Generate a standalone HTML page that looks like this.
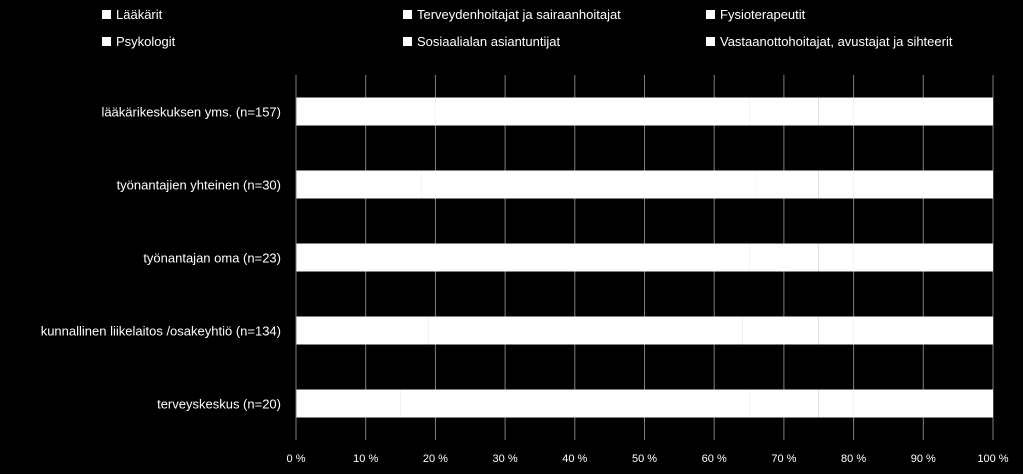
<!DOCTYPE html>
<html><head><meta charset="utf-8"><style>
body{margin:0;background:#000;}
svg{display:block;font-family:"Liberation Sans",sans-serif;}
</style></head><body>
<svg id="c" width="1023" height="474"></svg>
<script>
const categories=["lääkärikeskuksen yms. (n=157)","työnantajien yhteinen (n=30)","työnantajan oma (n=23)","kunnallinen liikelaitos /osakeyhtiö (n=134)","terveyskeskus (n=20)"];
const seriesNames=["Lääkärit","Terveydenhoitajat ja sairaanhoitajat","Fysioterapeutit","Psykologit","Sosiaalialan asiantuntijat","Vastaanottohoitajat, avustajat ja sihteerit"];
const s1=[20,18,17,19,15];
const s2=[30,32,33,31,35];
const s3=[15,16,15,14,15];
const s4=[10,9,10,11,10];
const s5=[5,5,5,5,5];
const s6=[20,20,20,20,20];
const ticks=[0,10,20,30,40,50,60,70,80,90,100];
const series=[s1,s2,s3,s4,s5,s6];
const NS="http://www.w3.org/2000/svg";
const svgEl=document.getElementById('c');
function el(t,a,p){const e=document.createElementNS(NS,t);for(const k in a)e.setAttribute(k,a[k]);(p||svgEl).appendChild(e);return e;}
const x0=296,x1=993,yTop=75,yBottom=440;
const band=(yBottom-yTop)/categories.length,bh=28;
const xs=v=>x0+(x1-x0)*v/100;
const yc=i=>yTop+band*(i+0.5);
ticks.forEach(t=>{
 const l=el('line',{x1:xs(t),x2:xs(t),y1:yTop,y2:yBottom,stroke:'#7f7f7f','stroke-width':1});
 
 
 const tx=el('text',{x:xs(t),y:462,fill:'#fff','font-size':11,'text-anchor':'middle'});
 tx.textContent=t+' %';
 
 
});
categories.forEach((c,i)=>{
 let acc=0;
 series.forEach((s,j)=>{
  const r=el('rect',{x:xs(acc),y:yc(i)-bh/2,width:xs(acc+s[i])-xs(acc),height:bh,fill:'#fff'});
  
  
  acc+=s[i];
 });
 const t=el('text',{x:281,y:yc(i)+5,fill:'#fff','font-size':13,'text-anchor':'end'});
 t.textContent=c;
 
 
});
const ax=el('line',{x1:x0,x2:x0,y1:yTop,y2:yBottom,stroke:'#7f7f7f'});


const lx=[102,403,706],ly=[19,46];
seriesNames.forEach((n,k)=>{
 const x=lx[k%3],y=ly[Math.floor(k/3)];
 const g=el('g',{});
 
 
 el('rect',{x:x,y:y-9,width:9,height:9,fill:'#fff'},g);
 const t=el('text',{x:x+14,y:y,fill:'#fff','font-size':13},g);
 t.textContent=n;
});
</script>
</body></html>
